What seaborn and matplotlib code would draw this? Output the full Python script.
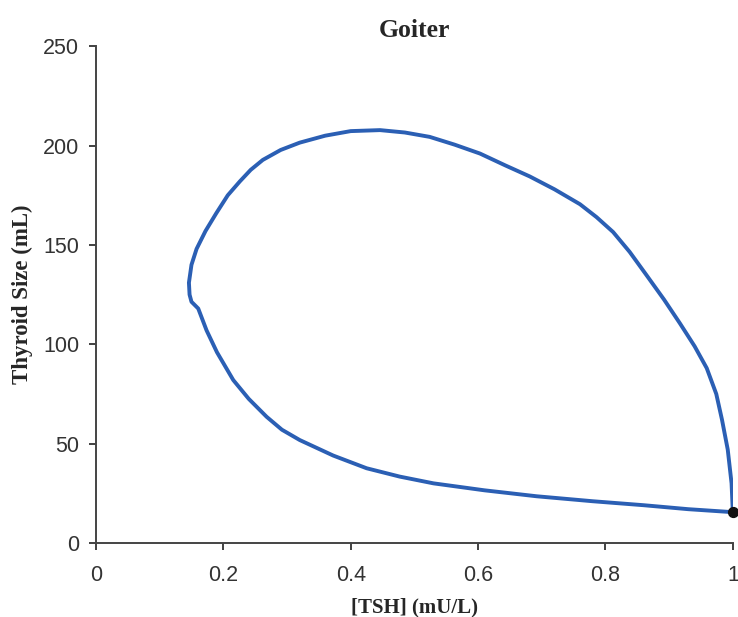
import pandas as pd
import matplotlib.pyplot as plt
import seaborn as sns

# Trajectory of TSH vs thyroid size (closed loop)
tsh = [1.0, 0.998, 0.992, 0.983, 0.974, 0.959, 0.94, 0.917, 0.892, 0.864,
       0.838, 0.812, 0.786, 0.76, 0.72, 0.681, 0.643, 0.603, 0.563, 0.524,
       0.485, 0.446, 0.4, 0.36, 0.32, 0.29, 0.262, 0.243, 0.226, 0.207,
       0.189, 0.172, 0.158, 0.15, 0.146, 0.147, 0.15, 0.1606, 0.1737, 0.19,
       0.2156, 0.24, 0.268, 0.292, 0.32, 0.3725, 0.425, 0.477, 0.53, 0.61,
       0.692, 0.78, 0.86, 0.93, 1.0]
size = [15.5, 30, 47, 62, 75, 88, 99, 110.5, 122.5, 135,
        146.5, 156.5, 164, 170.5, 178, 184.5, 190, 196, 200.5, 204.4,
        206.6, 207.8, 207.3, 205, 201.5, 197.8, 192.8, 187.8, 182, 175,
        166, 157, 148, 140, 131, 125, 121.4, 118, 107, 96,
        82, 72.5, 63.5, 57, 51.8, 44, 37.6, 33.4, 30, 26.5,
        23.5, 21, 19, 17, 15.5]
steady_tsh = [1.0]
steady_size = [15.5]

df = pd.DataFrame({'TSH': tsh, 'Size': size})

sns.set_style('ticks')
plt.rcParams['font.family'] = ['Liberation Sans', 'DejaVu Sans']

fig = plt.figure(figsize=(7.38, 6.17), dpi=100)
ax = fig.add_axes([0.130, 0.12, 0.863, 0.805])

sns.lineplot(data=df, x='TSH', y='Size', sort=False, estimator=None,
             color='#2b5fb4', linewidth=2.8, ax=ax)
for l in ax.lines:
    l.set_solid_joinstyle('round')
ax.scatter(steady_tsh, steady_size, color='#111111', s=50, zorder=5, clip_on=False)

ax.set_xlim(0, 1)
ax.set_ylim(0, 250)
ax.set_xticks([0, 0.2, 0.4, 0.6, 0.8, 1])
ax.set_xticklabels(['0', '0.2', '0.4', '0.6', '0.8', '1'])
ax.set_yticks([0, 50, 100, 150, 200, 250])
ax.tick_params(labelsize=15.5, colors='#333333', length=5, width=1.3)
ax.tick_params(axis='x', pad=11)
ax.tick_params(axis='y', pad=7)
for s in ['left', 'bottom']:
    ax.spines[s].set_color('#444444')
    ax.spines[s].set_linewidth(1.4)
sns.despine(ax=ax)

serif = {'family': 'Liberation Serif', 'weight': 'bold'}
ax.set_title('Goiter', fontdict={**serif, 'size': 18.5}, pad=7)
ax.set_xlabel('[TSH] (mU/L)', fontdict={**serif, 'size': 15}, labelpad=8)
ax.set_ylabel('Thyroid Size (mL)', fontdict={**serif, 'size': 16.5}, labelpad=7)

fig.savefig('out.png', dpi=100)
